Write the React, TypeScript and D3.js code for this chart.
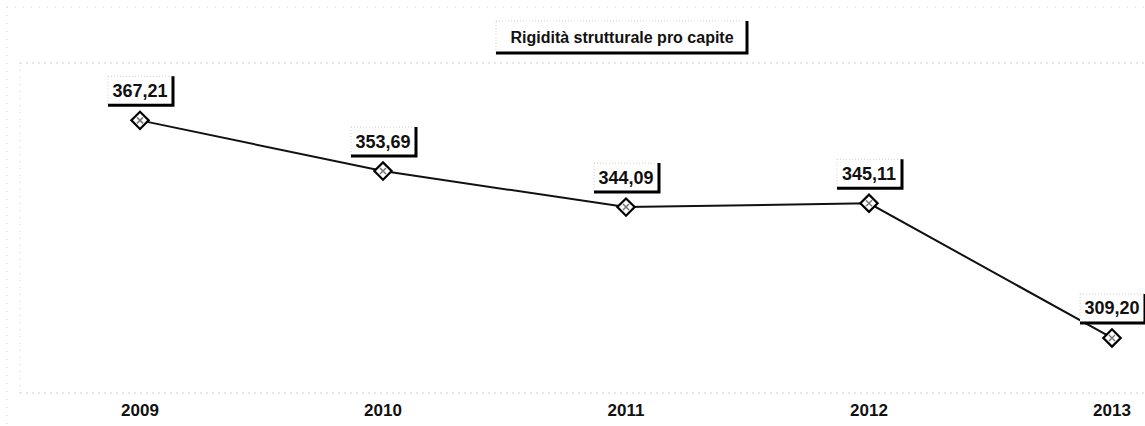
import * as d3 from "d3";

const years = ["2009", "2010", "2011", "2012", "2013"];
const values = [367.21, 353.69, 344.09, 345.11, 309.2];
const labels = ["367,21", "353,69", "344,09", "345,11", "309,20"];
const title = "Rigidità strutturale pro capite";

const W = 1145;
const H = 426;
const FONT = "'Liberation Sans', Arial, sans-serif";
const DOTS = "#cfcfcf";

export default function App() {
  const x = d3.scalePoint<string>().domain(years).range([140, 1112]);
  const y = d3.scaleLinear().domain([294.8, 382.5]).range([392, 63]);

  const line = d3
    .line<number>()
    .x((_, i) => x(years[i])!)
    .y((d) => y(d));

  const diamond = d3.symbol().type(d3.symbolSquare).size(150)();

  return (
    <div style={{ position: "absolute", left: 0, top: 0 }}>
      <svg width={W} height={H} style={{ display: "block", background: "#fff" }}>
        {/* faint scanned frame */}
        <line x1={7} x2={W} y1={7} y2={7} stroke={DOTS} strokeDasharray="1 7" />
        <line x1={7} x2={7} y1={7} y2={H} stroke={DOTS} strokeDasharray="1 7" />
        <line x1={20} x2={W} y1={63} y2={63} stroke={DOTS} strokeDasharray="2 4" />
        <line x1={20} x2={W} y1={393} y2={393} stroke={DOTS} strokeDasharray="2 4" />
        <line x1={20} x2={20} y1={63} y2={393} stroke={DOTS} strokeDasharray="1 6" />

        {/* title */}
        <g transform="translate(622,0)">
          <rect x={-126} y={21} width={251} height={32} fill="#fff" stroke={DOTS} strokeDasharray="1 2" />
          <path d="M125,21 V53 H-126" fill="none" stroke="#000" strokeWidth={3} />
          <text x={0} y={43} textAnchor="middle" fontFamily={FONT} fontWeight="bold" fontSize={16} fill="#111">
            {title}
          </text>
        </g>

        {/* series line */}
        <path d={line(values) ?? ""} fill="none" stroke="#111" strokeWidth={2} />

        {/* markers */}
        {values.map((v, i) => (
          <g key={"m" + years[i]} transform={`translate(${x(years[i])},${y(v)})`}>
            <path d={diamond} transform="rotate(45)" fill="#fff" stroke="#000" strokeWidth={2.2} />
            <path d="M-3,-3 L3,3 M3,-3 L-3,3" stroke="#777" strokeWidth={1.5} />
          </g>
        ))}

        {/* data labels */}
        {values.map((v, i) => {
          const cx = x(years[i])!;
          const cy = y(v) - 30;
          return (
            <g key={"l" + years[i]} transform={`translate(${cx},${cy})`}>
              <rect x={-32} y={-14} width={64} height={28} fill="#fff" stroke={DOTS} strokeDasharray="1 2" />
              <path d="M33,-14 V15 H-32" fill="none" stroke="#000" strokeWidth={3} />
              <text x={0} y={6.5} textAnchor="middle" fontFamily={FONT} fontWeight="bold" fontSize={18} fill="#111">
                {labels[i]}
              </text>
            </g>
          );
        })}

        {/* x axis labels */}
        {years.map((yr) => (
          <text key={yr} x={x(yr)} y={416} textAnchor="middle" fontFamily={FONT} fontWeight="bold" fontSize={17} fill="#111">
            {yr}
          </text>
        ))}
      </svg>
    </div>
  );
}
